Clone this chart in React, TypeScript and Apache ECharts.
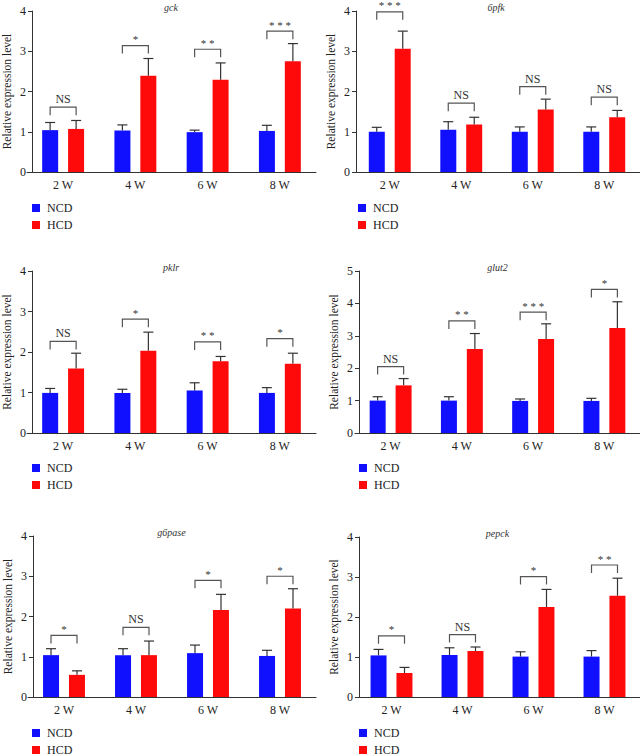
import React, { useEffect, useRef } from "react";
import * as echarts from "echarts";

const categories = ["2 W", "4 W", "6 W", "8 W"];

const gckNCD = [1.04, 1.03, 0.99, 1.02];
const gckNCDErr = [0.19, 0.14, 0.05, 0.14];
const gckHCD = [1.07, 2.39, 2.29, 2.75];
const gckHCDErr = [0.21, 0.43, 0.42, 0.44];
const gckBracket = [1.61, 3.14, 3.05, 3.5];
const gckSig = ["NS", "*", "**", "***"];

const pfkNCD = [1.0, 1.05, 1.0, 1.0];
const pfkNCDErr = [0.11, 0.2, 0.12, 0.12];
const pfkHCD = [3.06, 1.18, 1.55, 1.36];
const pfkHCDErr = [0.44, 0.18, 0.26, 0.17];
const pfkBracket = [3.98, 1.71, 2.12, 1.86];
const pfkSig = ["***", "NS", "NS", "NS"];

const pklrNCD = [0.99, 0.99, 1.05, 0.99];
const pklrNCDErr = [0.11, 0.09, 0.19, 0.13];
const pklrHCD = [1.59, 2.03, 1.77, 1.71];
const pklrHCDErr = [0.38, 0.46, 0.12, 0.26];
const pklrBracket = [2.26, 2.81, 2.25, 2.33];
const pklrSig = ["NS", "*", "**", "*"];

const glutNCD = [1.0, 1.0, 0.99, 0.99];
const glutNCDErr = [0.12, 0.12, 0.06, 0.08];
const glutHCD = [1.47, 2.59, 2.9, 3.24];
const glutHCDErr = [0.21, 0.48, 0.47, 0.81];
const glutBracket = [2.05, 3.46, 3.73, 4.43];
const glutSig = ["NS", "**", "***", "*"];

const g6NCD = [1.04, 1.04, 1.09, 1.02];
const g6NCDErr = [0.16, 0.16, 0.2, 0.14];
const g6HCD = [0.55, 1.04, 2.16, 2.2];
const g6HCDErr = [0.1, 0.35, 0.39, 0.49];
const g6Bracket = [1.53, 1.73, 2.9, 3.0];
const g6Sig = ["*", "NS", "*", "*"];

const pepNCD = [1.04, 1.05, 1.01, 1.01];
const pepNCDErr = [0.15, 0.18, 0.12, 0.15];
const pepHCD = [0.6, 1.15, 2.25, 2.53];
const pepHCDErr = [0.14, 0.1, 0.44, 0.44];
const pepBracket = [1.53, 1.56, 3.01, 3.3];
const pepSig = ["*", "NS", "*", "**"];

const panels = [
  { gene: "gck", ncd: gckNCD, ncdErr: gckNCDErr, hcd: gckHCD, hcdErr: gckHCDErr, br: gckBracket, sig: gckSig, yMax: 4 },
  { gene: "6pfk", ncd: pfkNCD, ncdErr: pfkNCDErr, hcd: pfkHCD, hcdErr: pfkHCDErr, br: pfkBracket, sig: pfkSig, yMax: 4 },
  { gene: "pklr", ncd: pklrNCD, ncdErr: pklrNCDErr, hcd: pklrHCD, hcdErr: pklrHCDErr, br: pklrBracket, sig: pklrSig, yMax: 4 },
  { gene: "glut2", ncd: glutNCD, ncdErr: glutNCDErr, hcd: glutHCD, hcdErr: glutHCDErr, br: glutBracket, sig: glutSig, yMax: 5 },
  { gene: "g6pase", ncd: g6NCD, ncdErr: g6NCDErr, hcd: g6HCD, hcdErr: g6HCDErr, br: g6Bracket, sig: g6Sig, yMax: 4 },
  { gene: "pepck", ncd: pepNCD, ncdErr: pepNCDErr, hcd: pepHCD, hcdErr: pepHCDErr, br: pepBracket, sig: pepSig, yMax: 4 },
];

// layout: grid band area, y-axis offset (negative = shift right)
const grids = [
  { left: 27, top: 11, width: 289, height: 161 },
  { left: 354, top: 11, width: 288, height: 161 },
  { left: 27, top: 271, width: 289, height: 162 },
  { left: 355, top: 271, width: 287, height: 162 },
  { left: 28, top: 536, width: 288, height: 161 },
  { left: 356, top: 537, width: 286, height: 160 },
];
const yOffsets = [-5, -2, -5, -4, -5, -3];
const legendLefts = [32, 358, 32, 359, 32, 359];
const legendTops = [202, 202, 462, 462, 727, 727];

const FONT = "Liberation Serif, DejaVu Serif, serif";
const BLUE = "#1010ff";
const RED = "#ff0a0a";
const DARK = "#333333";
const BAR_W = 16;
const HALF_OFF = 13;

export default function App() {
  const ref = useRef<HTMLDivElement>(null);
  useEffect(() => {
    document.body.style.margin = "0";
    if (!ref.current) return;
    const chart = echarts.init(ref.current, undefined, { renderer: "svg" });

    const xAxis: any[] = [];
    const yAxis: any[] = [];
    const series: any[] = [];
    const legend: any[] = [];
    const graphic: any[] = [];

    panels.forEach((p, k) => {
      const g = grids[k];
      xAxis.push({
        type: "category",
        gridIndex: k,
        data: categories,
        axisLine: { lineStyle: { color: DARK, width: 1 } },
        axisTick: { alignWithLabel: true, length: 5, lineStyle: { color: DARK } },
        axisLabel: { color: "#222", fontFamily: FONT, fontSize: 12, margin: 7 },
      });
      yAxis.push({
        type: "value",
        gridIndex: k,
        min: 0,
        max: p.yMax,
        interval: 1,
        offset: yOffsets[k],
        name: "Relative expression level",
        nameLocation: "middle",
        nameGap: 19,
        nameTextStyle: { fontFamily: FONT, fontSize: 11.5, color: "#222" },
        axisLine: { show: true, lineStyle: { color: DARK, width: 1 } },
        axisTick: { show: true, length: 4, lineStyle: { color: DARK } },
        axisLabel: { color: "#222", fontFamily: FONT, fontSize: 12, margin: 6 },
        splitLine: { show: false },
      });
      series.push({
        type: "bar",
        name: "NCD",
        xAxisIndex: k,
        yAxisIndex: k,
        data: p.ncd,
        barWidth: BAR_W,
        barGap: "62%",
        itemStyle: { color: BLUE },
        z: 2,
      });
      series.push({
        type: "bar",
        name: "HCD",
        xAxisIndex: k,
        yAxisIndex: k,
        data: p.hcd,
        barWidth: BAR_W,
        barGap: "62%",
        itemStyle: { color: RED },
        z: 2,
      });
      const errSeries = (means: number[], errs: number[], off: number) => ({
        type: "custom",
        xAxisIndex: k,
        yAxisIndex: k,
        z: 3,
        silent: true,
        data: means.map((m, i) => [i, m, errs[i]]),
        renderItem: (_params: any, api: any) => {
          const c = api.coord([api.value(0), api.value(1)]);
          const t = api.coord([api.value(0), api.value(1) + api.value(2)]);
          const x = c[0] + off;
          const st = { stroke: DARK, lineWidth: 1.2, fill: null };
          return {
            type: "group",
            children: [
              { type: "line", shape: { x1: x, y1: c[1], x2: x, y2: t[1] }, style: st },
              { type: "line", shape: { x1: x - 5, y1: t[1], x2: x + 5, y2: t[1] }, style: st },
            ],
          };
        },
      });
      series.push(errSeries(p.ncd, p.ncdErr, -HALF_OFF));
      series.push(errSeries(p.hcd, p.hcdErr, HALF_OFF));
      const sigs = p.sig;
      series.push({
        type: "custom",
        xAxisIndex: k,
        yAxisIndex: k,
        z: 4,
        silent: true,
        clip: false,
        data: p.br.map((b, i) => [i, b]),
        renderItem: (params: any, api: any) => {
          const c = api.coord([api.value(0), api.value(1)]);
          const x1 = c[0] - HALF_OFF;
          const x2 = c[0] + HALF_OFF;
          const y = c[1];
          const lab = sigs[params.dataIndex];
          const isStar = lab !== "NS";
          return {
            type: "group",
            children: [
              {
                type: "polyline",
                shape: { points: [[x1, y + 8], [x1, y], [x2, y], [x2, y + 8]] },
                style: { stroke: "#555", lineWidth: 1.2, fill: null },
              },
              {
                type: "text",
                x: c[0],
                y: isStar ? y - 1 : y - 2,
                style: {
                  text: isStar ? lab.split("").join(" ") : lab,
                  fontFamily: FONT,
                  fontSize: isStar ? 11 : 12,
                  fill: "#333",
                  align: "center",
                  verticalAlign: "bottom",
                },
              },
            ],
          };
        },
      });
      legend.push({
        data: ["NCD", "HCD"],
        orient: "vertical",
        left: legendLefts[k],
        top: legendTops[k],
        padding: 0,
        icon: "rect",
        itemWidth: 8,
        itemHeight: 8,
        itemGap: 5,
        selectedMode: false,
        textStyle: { fontFamily: FONT, fontSize: 12, color: "#222", padding: [0, 0, 0, 2] },
      });
      const axisX = g.left - yOffsets[k];
      graphic.push({
        type: "text",
        x: (axisX + g.left + g.width) / 2 - 3,
        y: g.top - 4,
        style: {
          text: p.gene,
          fontFamily: FONT,
          fontStyle: "italic",
          fontSize: 10,
          fill: "#333",
          align: "center",
          verticalAlign: "middle",
        },
      });
    });

    chart.setOption({
      animation: false,
      textStyle: { fontFamily: FONT },
      grid: grids.map((g) => ({ ...g, containLabel: false })),
      xAxis,
      yAxis,
      series,
      legend,
      graphic,
    });
    return () => chart.dispose();
  }, []);
  return <div ref={ref} style={{ width: 640, height: 756 }} />;
}
